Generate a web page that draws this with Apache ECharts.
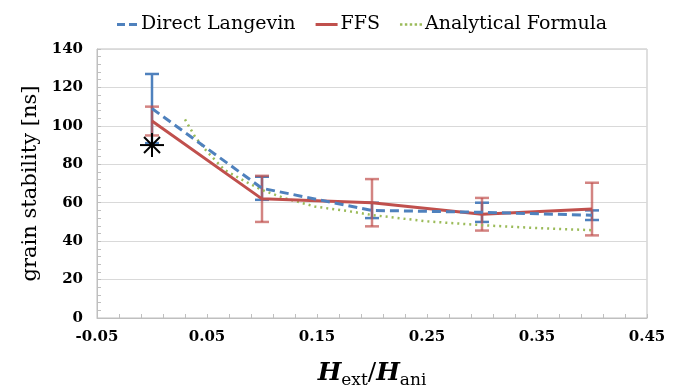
<!DOCTYPE html>
<html>
<head>
<meta charset="utf-8">
<script src="https://cdn.jsdelivr.net/npm/echarts@6/dist/echarts.min.js"></script>
<style>
  body { margin: 0; background: #fff; }
  #chart { width: 679px; height: 392px; }
</style>
</head>
<body>
<div id="chart"></div>
<script>
// H_ext/H_ani values of the simulations
var fieldRatio = [0, 0.1, 0.2, 0.3, 0.4];
var langevin = [109, 67.5, 56, 55, 53.5];
var langevinErr = [18, 6, 4, 5, 2.5];
var ffs = [102.5, 62, 60, 54, 56.7];
var ffsErr = [7.5, 12, 12.3, 8.5, 13.7];
// analytical curve
var analyticX = [0.03, 0.039, 0.05, 0.066, 0.085, 0.1, 0.121, 0.148, 0.18, 0.2, 0.25, 0.3, 0.35, 0.4];
var analyticY = [103.4, 94.4, 86.6, 77, 71, 66.6, 62.3, 58, 55.5, 53.6, 50.3, 48.3, 46.8, 45.7];
// single reference point (star)
var starX = [0];
var starY = [90];

var blue = '#4f81bd', red = '#c0504d', green = '#9bbb59';
var serif = 'DejaVu Serif';

function pairs(xs, ys) {
	return xs.map(function (x, i) { return [x, ys[i]]; });
}

function errorBars(color, width) {
	return function (params, api) {
		var x = api.value(0), y = api.value(1), e = api.value(2);
		var top = api.coord([x, y + e]);
		var bot = api.coord([x, y - e]);
		var w = 7;
		var style = { stroke: color, lineWidth: width };
		return {
			type: 'group',
			children: [
				{ type: 'line', shape: { x1: top[0], y1: top[1], x2: bot[0], y2: bot[1] }, style: style },
				{ type: 'line', shape: { x1: top[0] - w, y1: top[1], x2: top[0] + w, y2: top[1] }, style: style },
				{ type: 'line', shape: { x1: bot[0] - w, y1: bot[1], x2: bot[0] + w, y2: bot[1] }, style: style }
			]
		};
	};
}

var chart = echarts.init(document.getElementById('chart'));

chart.setOption({
	animation: false,
	grid: {
		left: 97, right: 32, top: 49, bottom: 74,
		outerBoundsMode: 'none',
		show: true, borderColor: '#bfbfbf', borderWidth: 1
	},
	legend: {
		top: 10,
		left: 112,
		itemWidth: 22,
		itemHeight: 3,
		itemGap: 20,
		textStyle: { fontFamily: serif, fontSize: 19, color: '#000', padding: [0, 0, 0, -2] },
		data: [
			{ name: 'Direct Langevin', icon: 'path://M0,0h8v3h-8zM12,0h8v3h-8z' },
			{ name: 'FFS', icon: 'path://M0,0h22v3h-22z' },
			{ name: 'Analytical Formula', icon: 'path://M0,0h3v3h-3zM6,0h3v3h-3zM12,0h3v3h-3zM18,0h3v3h-3zM24,0h3v3h-3z' }
		]
	},
	xAxis: {
		type: 'value',
		min: -0.05,
		max: 0.45,
		interval: 0.1,
		name: '{h|H}{sub|ext}{sl|/}{h|H}{sub|ani}',
		nameLocation: 'middle',
		nameGap: 39,
		nameTextStyle: {
			rich: {
				h: { fontFamily: serif, fontSize: 25, fontStyle: 'italic', fontWeight: 'bold', color: '#000', lineHeight: 32 },
				sl: { fontFamily: serif, fontSize: 25, color: '#000', lineHeight: 32 },
				sub: { fontFamily: serif, fontSize: 17, color: '#000', lineHeight: 20, verticalAlign: 'bottom', padding: [14, 0, 0, 0] }
			}
		},
		axisLine: { lineStyle: { color: '#bfbfbf' } },
		axisTick: { inside: true, length: 4, lineStyle: { color: '#bfbfbf' } },
		minorTick: { show: true, splitNumber: 5, length: 4, lineStyle: { color: '#bfbfbf' } },
		splitLine: { show: false },
		axisLabel: {
			margin: 12,
			fontFamily: serif, fontSize: 15, fontWeight: 'bold', color: '#000',
			formatter: function (v) { return v.toFixed(2); }
		}
	},
	yAxis: {
		type: 'value',
		min: 0,
		max: 140,
		interval: 20,
		name: 'grain stability [ns]',
		nameLocation: 'middle',
		nameGap: 54,
		nameTextStyle: { fontFamily: serif, fontSize: 21, color: '#000' },
		axisLine: { show: true, onZero: false, lineStyle: { color: '#bfbfbf' } },
		axisTick: { show: true, inside: true, length: 4, lineStyle: { color: '#bfbfbf' } },
		minorTick: { show: true, splitNumber: 5, length: 4, lineStyle: { color: '#bfbfbf' } },
		splitLine: { lineStyle: { color: '#d9d9d9' } },
		axisLabel: { margin: 14, fontFamily: serif, fontSize: 15, fontWeight: 'bold', color: '#000' }
	},
	series: [
		{
			name: 'langevinErr',
			type: 'custom',
			z: 2,
			renderItem: errorBars(blue, 2.5),
			data: fieldRatio.map(function (x, i) { return [x, langevin[i], langevinErr[i]]; })
		},
		{
			name: 'ffsErr',
			type: 'custom',
			z: 3,
			renderItem: errorBars('rgba(192,80,77,0.7)', 2.5),
			data: fieldRatio.map(function (x, i) { return [x, ffs[i], ffsErr[i]]; })
		},
		{
			name: 'Analytical Formula',
			type: 'line',
			z: 4,
			symbol: 'none',
			color: green,
			lineStyle: { color: green, width: 2.5, type: [2, 4] },
			data: pairs(analyticX, analyticY)
		},
		{
			name: 'FFS',
			type: 'line',
			z: 5,
			symbol: 'none',
			color: red,
			lineStyle: { color: red, width: 3 },
			data: pairs(fieldRatio, ffs)
		},
		{
			name: 'Direct Langevin',
			type: 'line',
			z: 6,
			symbol: 'none',
			color: blue,
			lineStyle: { color: blue, width: 3, type: [9, 5] },
			data: pairs(fieldRatio, langevin)
		},
		{
			name: 'star',
			type: 'custom',
			z: 7,
			renderItem: function (params, api) {
				var p = api.coord([api.value(0), api.value(1)]);
				var r = 12, d = 8;
				var style = { stroke: '#000', lineWidth: 2 };
				return {
					type: 'group',
					children: [
						{ type: 'line', shape: { x1: p[0] - r, y1: p[1], x2: p[0] + r, y2: p[1] }, style: style },
						{ type: 'line', shape: { x1: p[0], y1: p[1] - r, x2: p[0], y2: p[1] + r }, style: style },
						{ type: 'line', shape: { x1: p[0] - d, y1: p[1] - d, x2: p[0] + d, y2: p[1] + d }, style: style },
						{ type: 'line', shape: { x1: p[0] - d, y1: p[1] + d, x2: p[0] + d, y2: p[1] - d }, style: style }
					]
				};
			},
			data: pairs(starX, starY)
		}
	]
});
</script>
</body>
</html>
